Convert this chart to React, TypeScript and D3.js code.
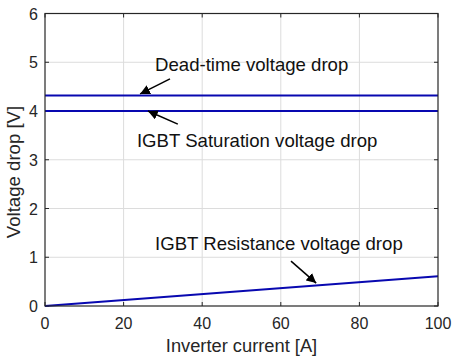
import React, { useEffect, useRef } from 'react';
import * as d3 from 'd3';

// chart data
const current = [0, 100];
const deadTime = [4.32, 4.32];
const igbtSat = [4.0, 4.0];
const igbtRes = [0, 0.61];
const xTicks = [0, 20, 40, 60, 80, 100];
const yTicks = [0, 1, 2, 3, 4, 5, 6];

// annotations in data units
const labels = [
  { text: 'Dead-time voltage drop', x: 28, y: 4.83 },
  { text: 'IGBT Saturation voltage drop', x: 23.4, y: 3.27 },
  { text: 'IGBT Resistance voltage drop', x: 28, y: 1.14 },
];
const arrows = [
  { x1: 31.8, y1: 4.66, x2: 24.2, y2: 4.35 },
  { x1: 33.8, y1: 3.73, x2: 26.2, y2: 4.0 },
  { x1: 62.6, y1: 0.92, x2: 69, y2: 0.47 },
];

const App = () => {
  const svgRef = useRef<SVGSVGElement>(null);

  useEffect(() => {
    const svg = d3.select(svgRef.current);
    const width = 457;
    const height = 360;
    const margin = { top: 13.5, right: 19, bottom: 54, left: 45 };
    const innerWidth = width - margin.left - margin.right;
    const innerHeight = height - margin.top - margin.bottom;
    const font = '"Liberation Sans", Arial, sans-serif';

    svg.selectAll('*').remove();
    svg.append('rect').attr('width', width).attr('height', height).attr('fill', '#fff');

    const g = svg.append('g').attr('transform', `translate(${margin.left},${margin.top})`);

    const x = d3.scaleLinear().domain([0, 100]).range([0, innerWidth]);
    const y = d3.scaleLinear().domain([0, 6]).range([innerHeight, 0]);

    // grid
    g.selectAll('.vgrid')
      .data(xTicks.slice(1, -1))
      .enter()
      .append('line')
      .attr('x1', (d) => x(d))
      .attr('x2', (d) => x(d))
      .attr('y1', 0)
      .attr('y2', innerHeight)
      .attr('stroke', '#dcdcdc')
      .attr('stroke-width', 1);
    g.selectAll('.hgrid')
      .data(yTicks.slice(1, -1))
      .enter()
      .append('line')
      .attr('x1', 0)
      .attr('x2', innerWidth)
      .attr('y1', (d) => y(d))
      .attr('y2', (d) => y(d))
      .attr('stroke', '#dcdcdc')
      .attr('stroke-width', 1);

    // inward ticks on all four sides
    const tickLen = 4;
    const tickColor = '#262626';
    xTicks.forEach((t) => {
      g.append('line').attr('x1', x(t)).attr('x2', x(t)).attr('y1', innerHeight).attr('y2', innerHeight - tickLen).attr('stroke', tickColor);
      g.append('line').attr('x1', x(t)).attr('x2', x(t)).attr('y1', 0).attr('y2', tickLen).attr('stroke', tickColor);
    });
    yTicks.forEach((t) => {
      g.append('line').attr('x1', 0).attr('x2', tickLen).attr('y1', y(t)).attr('y2', y(t)).attr('stroke', tickColor);
      g.append('line').attr('x1', innerWidth).attr('x2', innerWidth - tickLen).attr('y1', y(t)).attr('y2', y(t)).attr('stroke', tickColor);
    });

    // tick labels
    g.selectAll('.xlab')
      .data(xTicks)
      .enter()
      .append('text')
      .attr('x', (d) => x(d))
      .attr('y', innerHeight + 23)
      .attr('text-anchor', 'middle')
      .style('font-family', font)
      .style('font-size', '16px')
      .attr('fill', '#262626')
      .text((d) => d);
    g.selectAll('.ylab')
      .data(yTicks)
      .enter()
      .append('text')
      .attr('x', -7)
      .attr('y', (d) => y(d) + 6)
      .attr('text-anchor', 'end')
      .style('font-family', font)
      .style('font-size', '16px')
      .attr('fill', '#262626')
      .text((d) => d);

    // series
    const series = [deadTime, igbtSat, igbtRes];
    const line = d3
      .line<number>()
      .x((_, i) => x(current[i]))
      .y((d) => y(d));
    series.forEach((s) => {
      g.append('path')
        .datum(s)
        .attr('d', line)
        .attr('fill', 'none')
        .attr('stroke', '#0808b0')
        .attr('stroke-width', 2);
    });

    // frame
    g.append('rect')
      .attr('width', innerWidth)
      .attr('height', innerHeight)
      .attr('fill', 'none')
      .attr('stroke', '#262626')
      .attr('stroke-width', 1.2);

    // annotations
    svg.append('defs')
      .append('marker')
      .attr('id', 'arrowhead')
      .attr('viewBox', '0 0 10 10')
      .attr('refX', 10)
      .attr('refY', 5)
      .attr('markerWidth', 6.5)
      .attr('markerHeight', 6.5)
      .attr('markerUnits', 'strokeWidth')
      .attr('orient', 'auto')
      .append('path')
      .attr('d', 'M0,0 L10,5 L0,10 Z')
      .attr('fill', '#000');

    arrows.forEach((a) => {
      g.append('line')
        .attr('x1', x(a.x1))
        .attr('y1', y(a.y1))
        .attr('x2', x(a.x2))
        .attr('y2', y(a.y2))
        .attr('stroke', '#000')
        .attr('stroke-width', 1.5)
        .attr('marker-end', 'url(#arrowhead)');
    });

    labels.forEach((l) => {
      g.append('text')
        .attr('x', x(l.x))
        .attr('y', y(l.y))
        .style('font-family', font)
        .style('font-size', '18.6px')
        .attr('fill', '#111')
        .text(l.text);
    });

    // axis titles
    svg.append('text')
      .attr('x', margin.left + innerWidth / 2)
      .attr('y', 352)
      .attr('text-anchor', 'middle')
      .style('font-family', font)
      .style('font-size', '18.3px')
      .attr('fill', '#262626')
      .text('Inverter current [A]');
    svg.append('text')
      .attr('transform', `translate(20,172) rotate(-90)`)
      .attr('text-anchor', 'middle')
      .style('font-family', font)
      .style('font-size', '18.6px')
      .attr('fill', '#262626')
      .text('Voltage drop [V]');

    return () => {
      svg.selectAll('*').remove();
    };
  }, []);

  return <svg ref={svgRef} width={457} height={360} style={{ position: 'absolute', left: 0, top: 0 }}></svg>;
};

export default App;
